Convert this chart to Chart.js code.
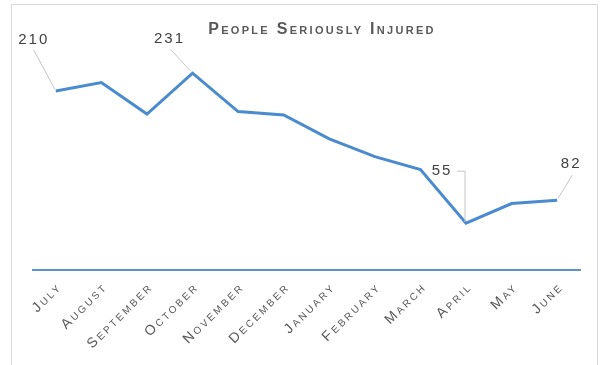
<!DOCTYPE html>
<html>
<head>
<meta charset="utf-8">
<script src="https://cdn.jsdelivr.net/npm/chart.js@4.4.1/dist/chart.umd.min.js"></script>
<style>
  html, body { margin: 0; padding: 0; background: #fff; }
  #wrap { width: 600px; height: 365px; position: relative; }
</style>
</head>
<body>
<div id="wrap"><canvas id="myChart"></canvas></div>
<script>
const months = ["July", "August", "September", "October", "November", "December",
    "January", "February", "March", "April", "May", "June"];
const injured = [210, 220, 183, 231, 186, 182, 154, 133, 118, 55, 78, 82];
const calloutMonths = ["July", "October", "April", "June"];
const chartTitle = "People Seriously Injured";

// where each callout text sits and how its leader line runs, relative to the point
const calloutStyle = {
    July: { dx: -23, dy: -51, line: [[-22, -41], [-1, -2]] },
    October: { dx: -24, dy: -34, line: [[-22, -24], [-2, -2]] },
    April: { dx: -25, dy: -52, line: [[-9, -52], [-1, -52], [-1, -1]] },
    June: { dx: 13, dy: -36, line: [[15, -25], [1, -2]] }
};

const ctx = document.getElementById("myChart");

const frameAndTitle = {
    id: "frameAndTitle",
    beforeDraw(chart) {
        const c = chart.ctx;
        c.save();
        c.strokeStyle = "#d9d9d9";
        c.lineWidth = 1;
        c.strokeRect(11.5, 4.5, 586, 380);
        c.restore();
        // spaced-out month labels, like the original
        c.letterSpacing = "2.5px";
    },
    beforeDatasetsDraw(chart) {
        chart.ctx.letterSpacing = "0px";
    },
    afterDraw(chart) {
        const c = chart.ctx;
        c.save();
        c.font = "small-caps bold 16px Arial, 'Liberation Sans', sans-serif";
        c.letterSpacing = "2.3px";
        c.fillStyle = "#595959";
        c.textAlign = "center";
        c.textBaseline = "alphabetic";
        c.fillText(chartTitle, 322, 34);

        // callouts
        const meta = chart.getDatasetMeta(0);
        c.font = "15px Arial, 'Liberation Sans', sans-serif";
        c.letterSpacing = "2px";
        c.fillStyle = "#404040";
        c.textBaseline = "middle";
        c.strokeStyle = "#c4c4c4";
        c.lineWidth = 1;
        calloutMonths.forEach(m => {
            const i = months.indexOf(m);
            const pt = meta.data[i];
            const s = calloutStyle[m];
            c.fillText(String(injured[i]), pt.x + s.dx + 1, pt.y + s.dy);
            c.beginPath();
            s.line.forEach((p, k) => {
                if (k == 0) c.moveTo(pt.x + p[0], pt.y + p[1]);
                else c.lineTo(pt.x + p[0], pt.y + p[1]);
            });
            c.stroke();
        });
        c.restore();
    }
};

let chart = new Chart(ctx, {
    type: "line",
    data: {
        labels: months,
        datasets: [
            {
                label: chartTitle,
                data: injured,
                borderColor: "#4a8bd0",
                borderWidth: 3,
                pointRadius: 0,
                tension: 0,
                fill: false
            }
        ]
    },
    options: {
        responsive: true,
        maintainAspectRatio: false,
        animation: false,
        layout: {
            padding: { top: 57, left: 33, right: 20, bottom: 0 }
        },
        scales: {
            x: {
                offset: true,
                grid: { display: false, drawTicks: false },
                border: { display: true, color: "#5b93cc", width: 2 },
                ticks: {
                    color: "#595959",
                    maxRotation: 45,
                    minRotation: 45,
                    padding: 9,
                    labelOffset: 4,
                    autoSkip: false,
                    font: { size: 14, weight: "small-caps", family: "Arial, 'Liberation Sans', sans-serif" }
                },
                afterFit(scale) {
                    scale.height = 95;
                    scale.paddingLeft = 0;
                }
            },
            y: {
                display: false,
                min: 0,
                max: 250
            }
        },
        plugins: {
            legend: { display: false },
            title: { display: false },
            tooltip: { enabled: false }
        }
    },
    plugins: [frameAndTitle]
});
</script>
</body>
</html>
